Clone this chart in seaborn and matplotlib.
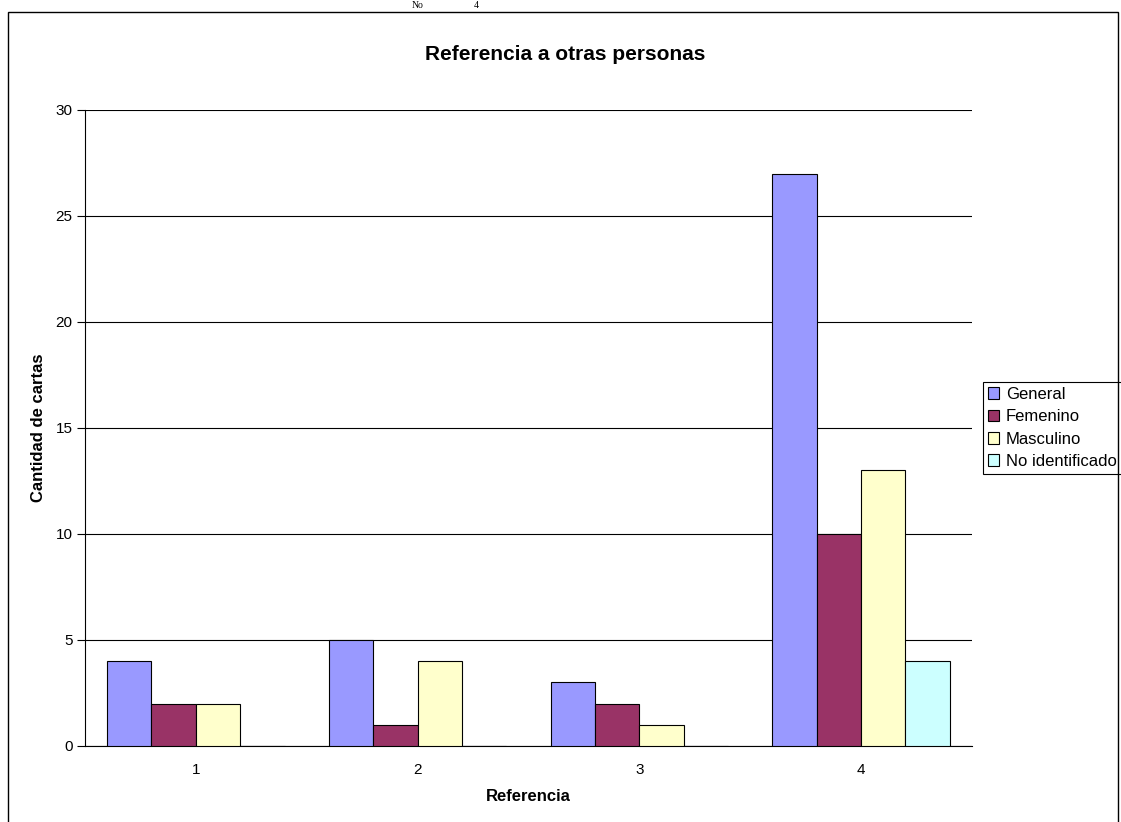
import numpy as np
import pandas as pd
import matplotlib.pyplot as plt
import seaborn as sns
from matplotlib.patches import Rectangle

referencias = ['1', '2', '3', '4']
general = [4, 5, 3, 27]
femenino = [2, 1, 2, 10]
masculino = [2, 4, 1, 13]
no_identificado = [0, 0, 0, 4]
series = ['General', 'Femenino', 'Masculino', 'No identificado']
colores = ['#9999FF', '#993366', '#FFFFCC', '#CCFFFF']

df = pd.DataFrame({
    'Referencia': referencias * 4,
    'Serie': np.repeat(series, 4),
    'Valor': general + femenino + masculino + no_identificado,
})

sns.set_style('white')
plt.rcParams['font.family'] = ['Liberation Sans', 'DejaVu Sans']
plt.rcParams['text.color'] = 'black'
plt.rcParams['axes.labelcolor'] = 'black'
plt.rcParams['xtick.color'] = 'black'
plt.rcParams['ytick.color'] = 'black'

fig = plt.figure(figsize=(11.21, 8.22), dpi=100)
ax = fig.add_axes([0.0758, 0.0925, 0.7912, 0.7737])

sns.barplot(data=df, x='Referencia', y='Valor', hue='Serie', palette=colores,
            saturation=1, width=0.8, gap=0, edgecolor='black', linewidth=0.8,
            ax=ax, zorder=3)

ax.set_ylim(0, 30)
ax.set_xlim(-0.5, 3.5)
ax.set_yticks(range(0, 31, 5))
ax.yaxis.grid(True, color='black', linewidth=0.8)
ax.set_axisbelow(True)
for s in ['top', 'right']:
    ax.spines[s].set_visible(False)
for s in ['left', 'bottom']:
    ax.spines[s].set_color('black')
    ax.spines[s].set_linewidth(0.8)

ax.set_xticks([-0.5, 0.5, 1.5, 2.5, 3.5], minor=True)
ax.tick_params(axis='x', which='major', length=0, labelsize=11, pad=12)
ax.tick_params(axis='x', which='minor', length=6, width=0.8, color='black', direction='out')
ax.tick_params(axis='y', length=6, width=0.8, color='black', direction='out',
               labelsize=11, left=True, pad=3)

ax.set_xlabel('Referencia', fontsize=12, fontweight='bold', labelpad=9)
ax.set_ylabel('Cantidad de cartas', fontsize=12, fontweight='bold', labelpad=7)
fig.text(565 / 1121, 1 - 55 / 822, 'Referencia a otras personas', fontsize=15,
         fontweight='bold', ha='center', va='center')

leg = ax.legend(loc='center left', bbox_to_anchor=(1.012, 0.5), fontsize=12,
                frameon=True, fancybox=False, edgecolor='black', framealpha=1,
                handlelength=0.7, handleheight=0.7, handletextpad=0.4,
                borderpad=0.3, labelspacing=0.44, borderaxespad=0)
leg.get_frame().set_linewidth(0.8)

# marco exterior
fig.patches.append(Rectangle((8 / 1121, -0.01), (1118 - 8) / 1121, 1 - 12 / 822 + 0.01,
                             transform=fig.transFigure, fill=False,
                             edgecolor='black', linewidth=1))
fig.text(412 / 1121, 1 - 1 / 822, 'No', fontsize=7, family='Liberation Serif', va='top')
fig.text(474 / 1121, 1 - 1 / 822, '4', fontsize=7, family='Liberation Serif', va='top')

fig.savefig('out.png', dpi=100)
